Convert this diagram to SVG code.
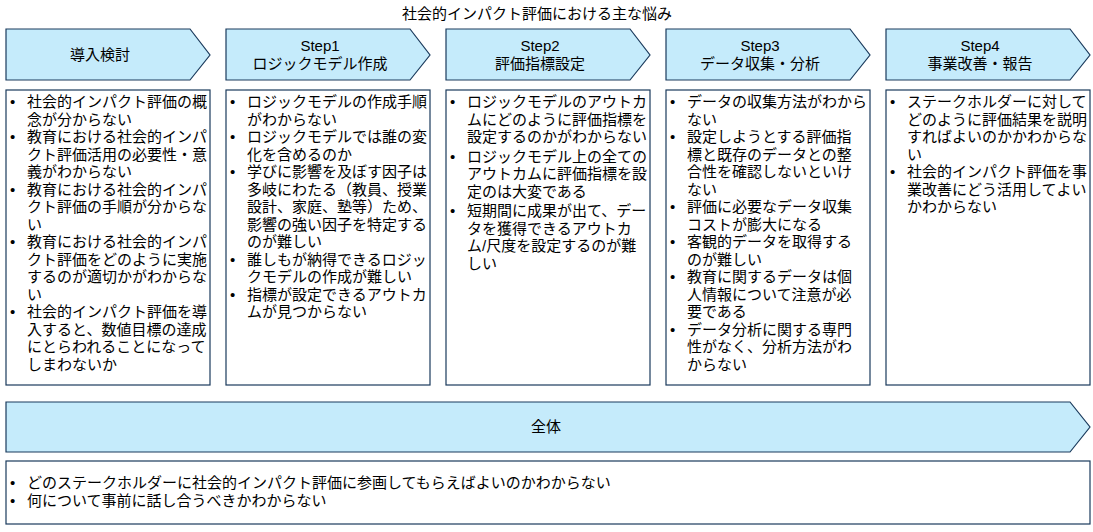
<svg xmlns="http://www.w3.org/2000/svg" width="1093" height="532" viewBox="0 0 1093 532">
<style>
.hd{fill:#c5ebfb;stroke:#1a3a5c;stroke-width:1.2}
.bx{fill:#fff;stroke:#1a3a5c;stroke-width:1.2}
text{font-family:"Liberation Sans","Noto Sans CJK JP",sans-serif;font-size:15px;fill:#000}
.c{text-anchor:middle}
</style>
<rect width="1093" height="532" fill="#fff"/>
<text x="537" y="19" class="c" font-size="17">社会的インパクト評価における主な悩み</text>
<g id="h0"><path class="hd" d="M6,29H190L210,55L190,80H6Z"/><text x="100" y="60" class="c">導入検討</text></g>
<g id="h1"><path class="hd" d="M226,29H410L430,55L410,80H226Z"/><text x="320" y="51" class="c">Step1</text><text x="320" y="69" class="c">ロジックモデル作成</text></g>
<g id="h2"><path class="hd" d="M446,29H630L650,55L630,80H446Z"/><text x="540" y="51" class="c">Step2</text><text x="540" y="69" class="c">評価指標設定</text></g>
<g id="h3"><path class="hd" d="M666,29H850L870,55L850,80H666Z"/><text x="760" y="51" class="c">Step3</text><text x="760" y="69" class="c">データ収集・分析</text></g>
<g id="h4"><path class="hd" d="M886,29H1070L1090,55L1070,80H886Z"/><text x="980" y="51" class="c">Step4</text><text x="980" y="69" class="c">事業改善・報告</text></g>
<g id="b0"><rect class="bx" x="6" y="90" width="204" height="295"/>
<text x="10" y="107"><tspan>•</tspan><tspan x="27">社会的インパクト評価の概</tspan><tspan x="27" dy="17.5">念が分からない</tspan><tspan x="10" dy="17.5">•</tspan><tspan x="27">教育における社会的インパ</tspan><tspan x="27" dy="17.5">クト評価活用の必要性・意</tspan><tspan x="27" dy="17.5">義がわからない</tspan><tspan x="10" dy="17.5">•</tspan><tspan x="27">教育における社会的インパ</tspan><tspan x="27" dy="17.5">クト評価の手順が分からな</tspan><tspan x="27" dy="17.5">い</tspan><tspan x="10" dy="17.5">•</tspan><tspan x="27">教育における社会的インパ</tspan><tspan x="27" dy="17.5">クト評価をどのように実施</tspan><tspan x="27" dy="17.5">するのが適切かがわからな</tspan><tspan x="27" dy="17.5">い</tspan><tspan x="10" dy="17.5">•</tspan><tspan x="27">社会的インパクト評価を導</tspan><tspan x="27" dy="17.5">入すると、数値目標の達成</tspan><tspan x="27" dy="17.5">にとらわれることになって</tspan><tspan x="27" dy="17.5">しまわないか</tspan></text></g>
<g id="b1"><rect class="bx" x="226" y="90" width="204" height="295"/>
<text x="230" y="107"><tspan>•</tspan><tspan x="247">ロジックモデルの作成手順</tspan><tspan x="247" dy="17.5">がわからない</tspan><tspan x="230" dy="17.5">•</tspan><tspan x="247">ロジックモデルでは誰の変</tspan><tspan x="247" dy="17.5">化を含めるのか</tspan><tspan x="230" dy="17.5">•</tspan><tspan x="247">学びに影響を及ぼす因子は</tspan><tspan x="247" dy="17.5">多岐にわたる（教員、授業</tspan><tspan x="247" dy="17.5">設計、家庭、塾等）ため、</tspan><tspan x="247" dy="17.5">影響の強い因子を特定する</tspan><tspan x="247" dy="17.5">のが難しい</tspan><tspan x="230" dy="17.5">•</tspan><tspan x="247">誰しもが納得できるロジッ</tspan><tspan x="247" dy="17.5">クモデルの作成が難しい</tspan><tspan x="230" dy="17.5">•</tspan><tspan x="247">指標が設定できるアウトカ</tspan><tspan x="247" dy="17.5">ムが見つからない</tspan></text></g>
<g id="b2"><rect class="bx" x="446" y="90" width="204" height="295"/>
<text x="450" y="107"><tspan>•</tspan><tspan x="467">ロジックモデルのアウトカ</tspan><tspan x="467" dy="17.5">ムにどのように評価指標を</tspan><tspan x="467" dy="17.5">設定するのかがわからない</tspan><tspan x="450" dy="19.5">•</tspan><tspan x="467">ロジックモデル上の全ての</tspan><tspan x="467" dy="17.5">アウトカムに評価指標を設</tspan><tspan x="467" dy="17.5">定のは大変である</tspan><tspan x="450" dy="19.5">•</tspan><tspan x="467">短期間に成果が出て、デー</tspan><tspan x="467" dy="17.5">タを獲得できるアウトカ</tspan><tspan x="467" dy="17.5">ム/尺度を設定するのが難</tspan><tspan x="467" dy="17.5">しい</tspan></text></g>
<g id="b3"><rect class="bx" x="666" y="90" width="204" height="295"/>
<text x="670" y="107"><tspan>•</tspan><tspan x="687">データの収集方法がわから</tspan><tspan x="687" dy="17.5">ない</tspan><tspan x="670" dy="17.5">•</tspan><tspan x="687">設定しようとする評価指</tspan><tspan x="687" dy="17.5">標と既存のデータとの整</tspan><tspan x="687" dy="17.5">合性を確認しないといけ</tspan><tspan x="687" dy="17.5">ない</tspan><tspan x="670" dy="17.5">•</tspan><tspan x="687">評価に必要なデータ収集</tspan><tspan x="687" dy="17.5">コストが膨大になる</tspan><tspan x="670" dy="17.5">•</tspan><tspan x="687">客観的データを取得する</tspan><tspan x="687" dy="17.5">のが難しい</tspan><tspan x="670" dy="17.5">•</tspan><tspan x="687">教育に関するデータは個</tspan><tspan x="687" dy="17.5">人情報について注意が必</tspan><tspan x="687" dy="17.5">要である</tspan><tspan x="670" dy="17.5">•</tspan><tspan x="687">データ分析に関する専門</tspan><tspan x="687" dy="17.5">性がなく、分析方法がわ</tspan><tspan x="687" dy="17.5">からない</tspan></text></g>
<g id="b4"><rect class="bx" x="886" y="90" width="204" height="295"/>
<text x="890" y="107"><tspan>•</tspan><tspan x="907">ステークホルダーに対して</tspan><tspan x="907" dy="17.5">どのように評価結果を説明</tspan><tspan x="907" dy="17.5">すればよいのかかわからな</tspan><tspan x="907" dy="17.5">い</tspan><tspan x="890" dy="17.5">•</tspan><tspan x="907">社会的インパクト評価を事</tspan><tspan x="907" dy="17.5">業改善にどう活用してよい</tspan><tspan x="907" dy="17.5">かわからない</tspan></text></g>
<g id="all"><path class="hd" d="M6,402H1070L1090,427L1070,452H6Z"/><text x="546" y="432" class="c">全体</text></g>
<g id="ball"><rect class="bx" x="6" y="461" width="1084" height="63"/>
<text x="10" y="488"><tspan>•</tspan><tspan x="27">どのステークホルダーに社会的インパクト評価に参画してもらえばよいのかわからない</tspan><tspan x="10" dy="17.5">•</tspan><tspan x="27">何について事前に話し合うべきかわからない</tspan></text></g>
<g id="connectors"/>
</svg>
